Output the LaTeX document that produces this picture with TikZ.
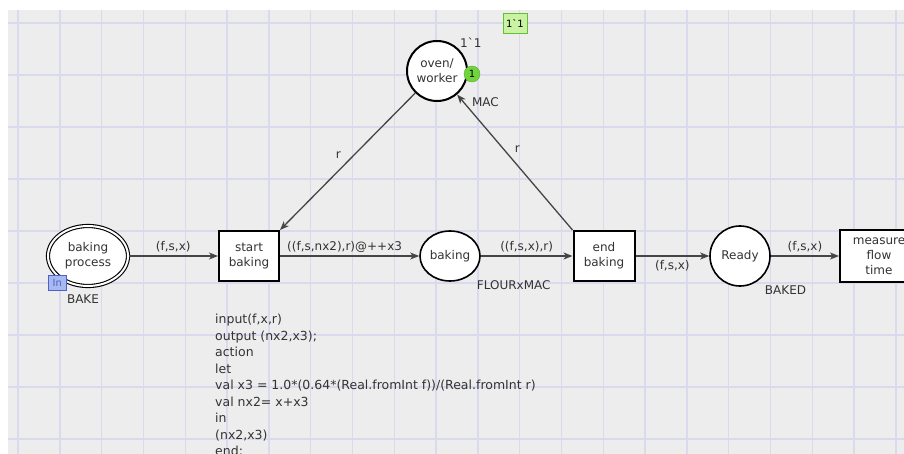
\documentclass[tikz,border=0pt]{standalone}
\usepackage{fontspec}
\setmainfont{DejaVu Sans}
\usetikzlibrary{shapes.geometric,positioning,arrows.meta}
\definecolor{canvas}{HTML}{EDEDED}
\definecolor{gridline}{HTML}{DADAEE}
\definecolor{arcgray}{HTML}{454545}
\definecolor{tokengreen}{HTML}{70D43C}
\definecolor{markfill}{HTML}{C9F3A2}
\definecolor{portblue}{HTML}{A8B8F0}
\definecolor{portdark}{HTML}{4A63C8}
\tikzstyle{place} = [ellipse, draw=black, line width=1.6pt, fill=white, minimum width=60pt, minimum height=50pt, inner sep=0pt, align=center, text=black!80]
\tikzstyle{portplace} = [place, line width=1.1pt, double, double distance=2pt, minimum width=80pt, minimum height=60pt]
\tikzstyle{trans} = [rectangle, draw=black, line width=2pt, fill=white, minimum width=60pt, minimum height=50pt, inner sep=0pt, align=center, text=black!80]
\tikzstyle{inscr} = [inner sep=1pt, text=black!80]
\tikzstyle{token} = [circle, fill=tokengreen, draw=tokengreen!80!black, line width=0.4pt, minimum size=16pt, inner sep=0pt, font=\fontsize{10}{12}\selectfont]
\tikzstyle{markbox} = [rectangle, fill=markfill, draw=tokengreen!90!black, line width=0.6pt, minimum width=24pt, minimum height=20pt, inner sep=1pt, font=\fontsize{10}{12}\selectfont]
\tikzstyle{porttag} = [rectangle, fill=portblue, draw=portdark, line width=0.6pt, minimum width=18pt, minimum height=15pt, inner sep=0pt, text=portdark, font=\fontsize{10}{12}\selectfont]
\tikzstyle{arrow} = [draw=arcgray, line width=1.3pt, -{Stealth[length=9pt,width=7pt,inset=2.5pt]}]

\begin{document}
\begin{tikzpicture}[x=1pt, y=-1pt, every node/.style={font=\fontsize{12}{15}\selectfont}]

\useasboundingbox (0,0) rectangle (904,454);
\clip (0,0) rectangle (904,454);
\fill[white] (0,0) rectangle (904,454);
\fill[canvas] (8,10) rectangle (904,454);
\foreach \k in {0,...,21}
  \draw[gridline, line width=1.4pt] ({18+41.8*\k},10) -- ({18+41.8*\k},454);
\foreach \k in {0,...,8}
  \draw[gridline, line width=1.4pt] (8,{23+52*\k}) -- (904,{23+52*\k});

% places and transitions
\node (bakeproc) [portplace] at (88,256) {baking\\process};
\node (start) [trans] at (249,256) {start\\baking};
\node (baking) [place] at (450,256) {baking};
\node (endbake) [trans, minimum width=61pt] at (604,256) {end\\baking};
\node (ready) [place, minimum height=60pt] at (740,256) {Ready};
\node (measure) [trans, minimum width=78pt, minimum height=52pt] at (879,256) {measure\\flow\\time};
\node (oven) [place, minimum width=60pt, minimum height=60pt, line width=2pt] at (437,71) {oven/\\worker};

% inscriptions
\node (bakecs) [inscr, below=7pt of bakeproc.south, xshift=-5pt] {BAKE};
\node (intag) [porttag, at={(bakeproc.south west)}, xshift=-2pt, yshift=-5pt] {In};
\node (bakingcs) [inscr, below right=5pt and 4pt of baking.south east] {FLOURxMAC};
\node (readycs) [inscr, below right=7pt and 2pt of ready.south east] {BAKED};
\node (ovencs) [inscr, below right=3pt and 12pt of oven.south east] {MAC};
\node (initmark) [inscr, above right=0pt and 0pt of oven.north east] {1\textasciigrave 1};
\node (tok) [token, at={(oven.east)}, xshift=4pt, yshift=-3pt] {1};
\node (markbox) [markbox, right=20pt of initmark, yshift=20pt] {1\textasciigrave 1};

% code segment
\node (code) [inscr, below=31pt of start.south west, anchor=north west, xshift=-4pt, align=left, font=\fontsize{12.5}{16.5}\selectfont]
{input(f,x,r)\\
output (nx2,x3);\\
action\\
let\\
val x3 = 1.0*(0.64*(Real.fromInt f))/(Real.fromInt r)\\
val nx2= x+x3\\
in\\
(nx2,x3)\\
end;};

% arcs
\draw [arrow] (bakeproc) -- node[inscr, above=2pt] {(f,s,x)} (start);
\draw [arrow] (start) -- node[inscr, above=2pt, xshift=-5pt] {((f,s,nx2),r)@++x3} (baking);
\draw [arrow] (baking) -- node[inscr, above=2pt] {((f,s,x),r)} (endbake);
\draw [arrow] (endbake) -- node[inscr, below=3pt] {(f,s,x)} (ready);
\draw [arrow] (ready) -- node[inscr, above=2pt] {(f,s,x)} (measure);
\draw [arrow] (oven) -- node[inscr, pos=0.45, left=12pt] {r} (start.north east);
\draw [arrow] (endbake.north west) -- node[inscr, pos=0.6, right=10pt] {r} (oven);

\end{tikzpicture}
\end{document}
